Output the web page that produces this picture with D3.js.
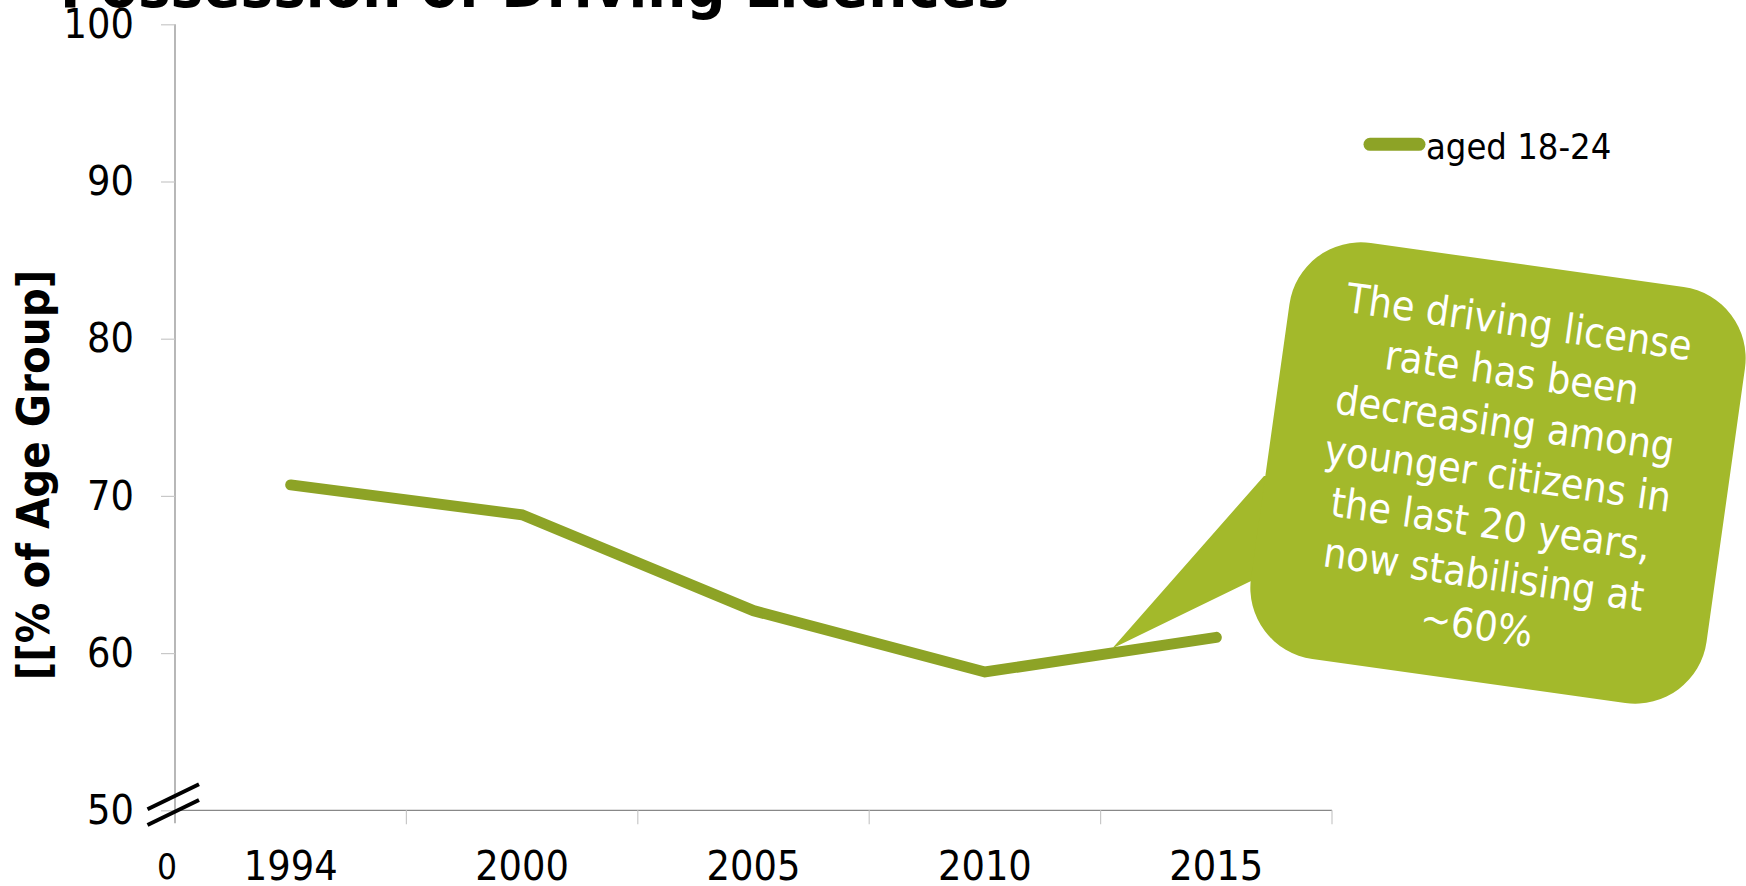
<!DOCTYPE html>
<html>
<head>
<meta charset="utf-8">
<script src="https://cdn.jsdelivr.net/npm/d3@7/dist/d3.min.js"></script>
<style>
  html, body { margin: 0; padding: 0; background: #fff; overflow: hidden; }
  svg { display: block; }
  text { font-family: "DejaVu Sans Condensed", "DejaVu Sans", sans-serif; }
</style>
</head>
<body>
<svg id="chart" width="1746" height="886"></svg>
<script>
// Driving licence possession, people aged 18-24
const years = ["1994", "2000", "2005", "2010", "2015"];
const licenceShare = [70.7, 68.8, 62.7, 58.8, 61.0];
const yTicks = [50, 60, 70, 80, 90, 100];
const seriesName = "aged 18-24";
const titleText = "Possession of Driving Licences";
const yAxisTitle = "[[% of Age Group]";
const calloutLines = [
  "The driving license",
  "rate has been",
  "decreasing among",
  "younger citizens in",
  "the last 20 years,",
  "now stabilising at",
  "~60%"
];

const lineColor = "#8da326";
const calloutColor = "#a3b92b";

const svg = d3.select("#chart");
const plot = { left: 175, right: 1332, top: 24.3, bottom: 810.3 };

const x = d3.scaleBand().domain(years).range([plot.left, plot.right]).padding(0);
const y = d3.scaleLinear().domain([50, 100]).range([plot.bottom, plot.top]);

// Title (runs off the top edge of the page)
svg.append("text")
  .attr("x", 60).attr("y", 7)
  .attr("font-size", 61).attr("font-weight", "bold")
  .attr("fill", "#000")
  .text(titleText);

// Y axis
const yAxis = d3.axisLeft(y).tickValues(yTicks).tickSize(14).tickPadding(27).tickFormat(d3.format("d"));
const gy = svg.append("g").attr("transform", `translate(${plot.left},0)`).call(yAxis);
gy.select(".domain").attr("stroke", "#888").attr("stroke-width", 1.2).attr("d", `M0,${plot.top}V${plot.bottom + 13}`);
gy.selectAll(".tick line").attr("stroke", "#c8c8c8").attr("stroke-width", 1.2);
gy.selectAll(".tick text")
  .attr("font-size", 41).attr("fill", "#000")
  .attr("font-family", '"DejaVu Sans Condensed", "DejaVu Sans", sans-serif');

// X axis: band boundaries carry the tick marks
const gx = svg.append("g").attr("transform", `translate(0,${plot.bottom})`);
gx.append("path")
  .attr("d", `M${plot.left},0H${plot.right}`)
  .attr("stroke", "#888").attr("stroke-width", 1.2).attr("fill", "none");
const boundaries = years.map(d => x(d)).concat([x(years[years.length - 1]) + x.bandwidth()]).slice(1);
gx.selectAll("line.tk").data(boundaries).join("line")
  .attr("class", "tk")
  .attr("x1", d => d).attr("x2", d => d)
  .attr("y1", 0).attr("y2", 14)
  .attr("stroke", "#c8c8c8").attr("stroke-width", 1.2);
gx.selectAll("text.lbl").data(years).join("text")
  .attr("class", "lbl")
  .attr("x", d => x(d) + x.bandwidth() / 2)
  .attr("y", 70)
  .attr("text-anchor", "middle")
  .attr("font-size", 41)
  .text(d => d);
gx.append("text")
  .attr("x", 167).attr("y", 69)
  .attr("text-anchor", "middle")
  .attr("font-size", 35)
  .text("0");

// Axis break marker
const brk = svg.append("g").attr("stroke", "#000").attr("stroke-width", 4);
[0, 15.7].forEach(off => {
  brk.append("line")
    .attr("x1", plot.left - 27.5).attr("y1", plot.bottom - 1 + off)
    .attr("x2", plot.left + 24).attr("y2", plot.bottom - 26 + off);
});

// Data line
const pts = years.map((d, i) => [x(d) + x.bandwidth() / 2, y(licenceShare[i])]);
svg.append("path")
  .attr("d", d3.line()(pts))
  .attr("fill", "none")
  .attr("stroke", lineColor)
  .attr("stroke-width", 11)
  .attr("stroke-linecap", "round")
  .attr("stroke-linejoin", "miter");

// Legend
const lg = svg.append("g");
lg.append("line")
  .attr("x1", 1370).attr("x2", 1419).attr("y1", 144.3).attr("y2", 144.3)
  .attr("stroke", lineColor).attr("stroke-width", 13).attr("stroke-linecap", "round");
lg.append("text")
  .attr("x", 1426).attr("y", 158.5)
  .attr("font-size", 36)
  .text(seriesName);

// Speech-bubble annotation
const bubble = { cx: 1498, cy: 473, w: 460, h: 420, r: 72, angle: 8 };
const tip = [x("2010") + x.bandwidth() * 1.05, y(60.3)];
svg.append("polygon")
  .attr("points", [tip, [1264, 476], [bubble.cx, bubble.cy], [1249, 582]].map(p => p.join(",")).join(" "))
  .attr("fill", calloutColor);
const bg = svg.append("g")
  .attr("transform", `translate(${bubble.cx},${bubble.cy}) rotate(${bubble.angle})`);
bg.append("rect")
  .attr("x", -bubble.w / 2).attr("y", -bubble.h / 2)
  .attr("width", bubble.w).attr("height", bubble.h)
  .attr("rx", bubble.r).attr("ry", bubble.r)
  .attr("fill", calloutColor);
const lineH = 51;
bg.selectAll("text").data(calloutLines).join("text")
  .attr("x", 0)
  .attr("y", (d, i) => (i - (calloutLines.length - 1) / 2) * lineH)
  .attr("dy", "0.36em")
  .attr("text-anchor", "middle")
  .attr("font-size", 41)
  .attr("fill", "#fff")
  .text(d => d);

// Y axis title
svg.append("text")
  .attr("transform", `translate(49,475) rotate(-90)`)
  .attr("text-anchor", "middle")
  .attr("font-size", 45)
  .attr("font-weight", "bold")
  .text(yAxisTitle);
</script>
</body>
</html>
